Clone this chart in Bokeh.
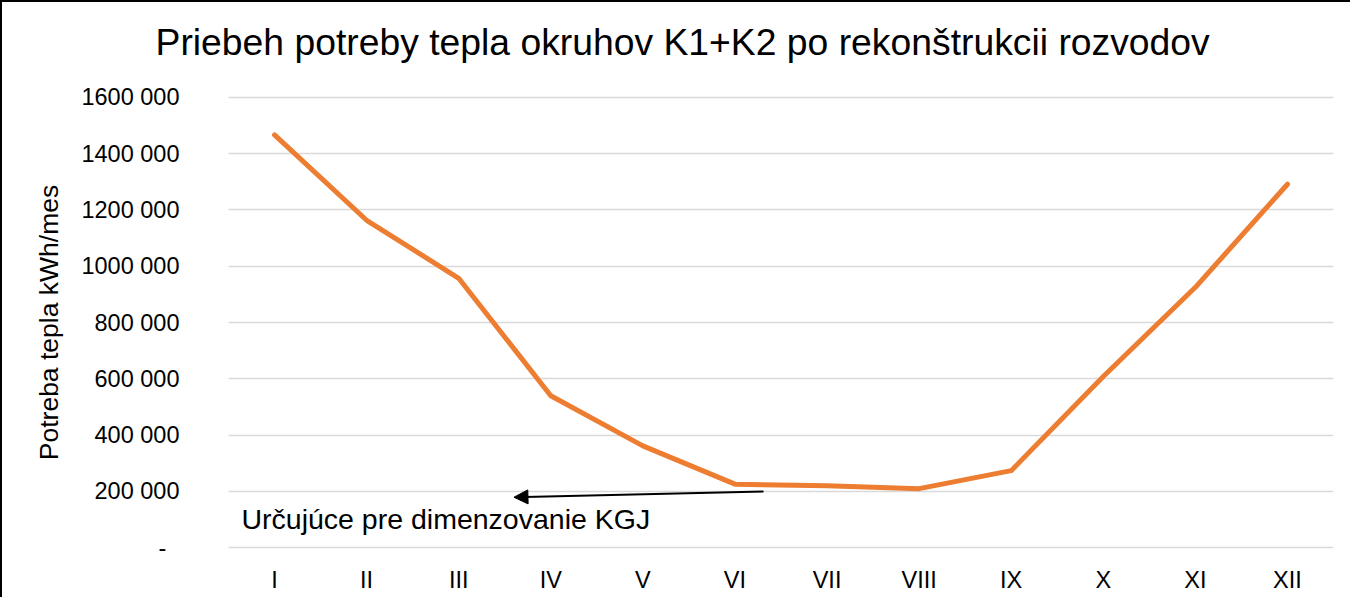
from bokeh.plotting import figure
from bokeh.models import Range1d, FixedTicker, Label, Arrow, NormalHead, Title
from bokeh.embed import file_html
from bokeh.resources import INLINE

# ---- data ----
months = ["I", "II", "III", "IV", "V", "VI", "VII", "VIII", "IX", "X", "XI", "XII"]
heat_kwh = [1466000, 1163000, 957000, 540000, 362000, 226000, 220000, 210000, 274000, 608000, 925000, 1291000]
y_ticks = [0, 200000, 400000, 600000, 800000, 1000000, 1200000, 1400000, 1600000]
y_tick_labels = ["-\u00a0\u00a0", "200 000", "400 000", "600 000", "800 000", "1000 000", "1200 000", "1400 000", "1600 000"]
title_text = "Priebeh potreby tepla okruhov K1+K2 po rekonštrukcii rozvodov"
y_axis_title = "Potreba tepla kWh/mes"
note_text = "Určujúce pre dimenzovanie KGJ"

FONT = "Liberation Sans"
x_pos = list(range(1, len(months) + 1))

p = figure(width=1350, height=597, output_backend="svg", toolbar_location=None,
           x_range=Range1d(0.5, len(months) + 0.5), y_range=Range1d(-6000, 1606000),
           min_border_left=226, min_border_right=19, min_border_top=93, min_border_bottom=50)
p.styles = {"border-top": "2px solid black", "border-left": "2px solid black"}
p.outline_line_color = None
p.background_fill_color = "white"
p.border_fill_color = "white"

# spacer between frame and title, then the title itself (outermost)
p.add_layout(Title(text="\u00a0", text_font_size="12px", standoff=12, text_font=FONT), "above")
p.title.text = title_text
p.title.text_font = FONT
p.title.text_font_size = "37.3px"
p.title.text_font_style = "normal"
p.title.text_color = "black"
p.title.align = "left"
p.title.offset = -73

p.line(x=x_pos, y=heat_kwh, line_color="#ED7D31", line_width=5, line_cap="round", line_join="round")

# axes
p.xgrid.visible = False
p.ygrid.grid_line_color = "#d9d9d9"
p.ygrid.grid_line_width = 1.5
p.ygrid.ticker = FixedTicker(ticks=y_ticks)

ya = p.yaxis[0]
ya.ticker = FixedTicker(ticks=y_ticks)
ya.major_label_overrides = dict(zip(y_ticks, y_tick_labels))
ya.axis_line_color = None
ya.major_tick_line_color = None
ya.minor_tick_line_color = None
ya.major_tick_out = 0
ya.major_tick_in = 0
ya.major_label_standoff = 49
ya.major_label_text_font = FONT
ya.major_label_text_font_size = "23.5px"
ya.major_label_text_color = "black"
ya.axis_label = y_axis_title
ya.axis_label_text_font = FONT
ya.axis_label_text_font_size = "26.5px"
ya.axis_label_text_font_style = "normal"
ya.axis_label_text_color = "black"
ya.axis_label_standoff = 14

xa = p.xaxis[0]
xa.ticker = FixedTicker(ticks=x_pos)
xa.major_label_overrides = dict(zip(x_pos, months))
xa.axis_line_color = None
xa.major_tick_line_color = None
xa.minor_tick_line_color = None
xa.major_tick_out = 0
xa.major_tick_in = 0
xa.major_label_standoff = 17
xa.major_label_text_font = FONT
xa.major_label_text_font_size = "23.5px"
xa.major_label_text_color = "black"

# annotation
p.add_layout(Arrow(end=NormalHead(size=14, fill_color="black", line_color="black", line_width=1),
                   x_start=6.31, y_start=200000, x_end=3.6, y_end=179650,
                   line_color="black", line_width=2))
p.add_layout(Label(x=0.641, y=102000, text=note_text, text_font=FONT, text_font_size="28.5px",
                   text_align="left", text_baseline="alphabetic", text_color="black"))

open("out.html", "w").write(file_html(p, INLINE))
